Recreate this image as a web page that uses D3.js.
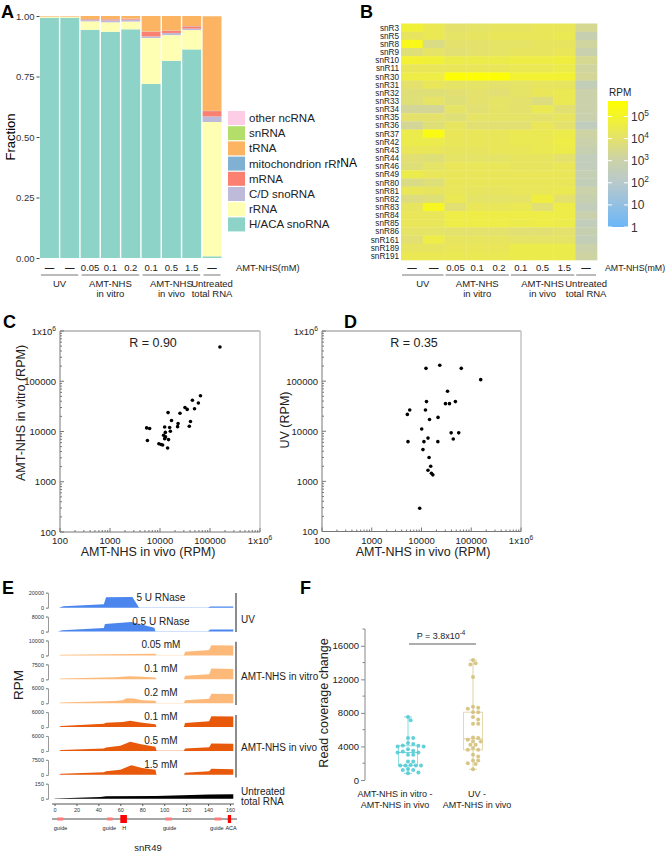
<!DOCTYPE html>
<html><head><meta charset="utf-8">
<script src="https://cdn.jsdelivr.net/npm/d3@7"></script>
<style>body{margin:0;background:#fff}svg{font-family:"Liberation Sans",Arial,sans-serif}</style>
</head><body><svg id="fig" width="668" height="853"></svg>
<script>
// ================= DATA =================
// Panel A
const aBars = ["UV-1","UV-2","vitro-0.05","vitro-0.1","vitro-0.2","vivo-0.1","vivo-0.5","vivo-1.5","untreated"];
const aDoseLabels = ["—","—","0.05","0.1","0.2","0.1","0.5","1.5","—"];
const rnaTypes = ["H/ACA snoRNA","rRNA","C/D snoRNA","mRNA","mitochondrion rRNA","tRNA","snRNA","other ncRNA"];
const rnaColors = ["#8dd3c7","#ffffb3","#bebada","#fb8072","#80b1d3","#fdb462","#b3de69","#fccde5"];
const fracHACA  = [0.993,0.993,0.943,0.935,0.945,0.720,0.815,0.862,0.007];
const fracRRNA  = [0.004,0.004,0.035,0.039,0.032,0.189,0.106,0.080,0.555];
const fracCD    = [0.0005,0.0005,0.005,0.008,0.008,0.007,0.009,0.006,0.023];
const fracMRNA  = [0.0005,0.0005,0.003,0.004,0.003,0.019,0.009,0.009,0.022];
const fracMito  = [0,0,0.001,0.001,0.001,0.001,0.001,0.001,0.001];
const fracTRNA  = [0.002,0.002,0.013,0.013,0.011,0.064,0.060,0.042,0.391];
const fracSnRNA = [0,0,0,0,0,0,0,0,0.0005];
const fracOther = [0,0,0,0,0,0,0,0,0.0005];
const conditionGroups = [
  {lines:["UV"], first:0, last:1},
  {lines:["AMT-NHS","in vitro"], first:2, last:4},
  {lines:["AMT-NHS","in vivo"], first:5, last:7},
  {lines:["Untreated","total RNA"], first:8, last:8}
];
// Panel B (log10 RPM per condition, rows = snoRNAs)
const snoRNAs = ["snR3","snR5","snR8","snR9","snR10","snR11","snR30","snR31","snR32","snR33","snR34","snR35","snR36","snR37","snR42","snR43","snR44","snR46","snR49","snR80","snR81","snR82","snR83","snR84","snR85","snR86","snR161","snR189","snR191"];
const logUV1    = [4.8,4.2,5.3,3.8,4.9,4.3,4.6,4.0,3.8,3.8,3.3,4.0,3.3,4.5,4.5,4.3,3.9,3.8,4.5,3.6,4.3,3.7,4.2,4.3,4.3,4.1,3.9,4.2,4.4];
const logUV2    = [4.4,4.4,3.6,4.1,4.8,4.3,4.6,4.3,3.8,4.1,3.3,4.0,3.8,5.4,4.5,4.3,3.8,4.1,4.3,3.8,4.2,3.8,5.2,4.3,4.3,4.1,4.6,4.2,4.4];
const logVitro005=[4.0,4.1,4.0,3.9,4.5,4.3,5.6,4.1,3.9,3.8,4.1,3.8,4.2,4.3,4.3,4.2,4.1,4.3,4.3,4.3,4.3,4.4,3.9,4.6,4.6,4.0,4.2,4.3,4.4];
const logVitro01= [4.1,4.2,4.0,4.0,4.5,4.3,5.6,4.1,4.0,4.0,3.9,4.1,3.9,4.3,4.3,4.2,4.1,4.3,4.3,4.3,4.2,4.1,4.3,4.6,4.6,4.0,4.2,4.3,4.4];
const logVitro02= [4.2,4.3,4.1,4.1,4.5,4.3,5.6,4.0,3.9,4.1,4.1,4.1,3.9,4.3,4.3,4.3,4.1,4.3,4.3,4.3,4.2,4.1,4.3,4.6,4.6,4.0,4.2,4.3,4.4];
const logVivo01 = [4.2,4.3,4.1,4.2,4.6,4.4,4.9,4.1,4.1,4.0,4.0,4.1,3.9,4.4,4.4,4.3,4.2,4.2,4.3,4.3,4.3,4.1,4.4,4.6,4.5,3.9,4.1,4.5,4.5];
const logVivo05 = [4.3,4.3,4.2,4.2,4.6,4.4,4.9,4.2,4.3,3.7,4.4,4.0,4.3,4.4,4.4,4.4,4.2,4.2,4.3,4.3,4.3,4.7,3.9,4.6,4.6,3.9,4.1,4.5,4.5];
const logVivo15 = [4.3,4.4,4.2,4.3,4.7,4.5,4.9,4.2,4.4,4.4,3.9,4.2,4.0,4.5,4.6,4.5,4.0,4.3,4.3,4.3,4.4,4.0,4.6,4.6,4.5,4.0,4.1,4.5,4.5];
const logUntreated=[3.4,2.8,3.2,2.9,3.4,3.2,3.3,2.6,3.0,3.0,3.0,2.9,2.4,3.1,3.0,2.8,2.5,2.5,2.7,2.6,3.0,2.8,2.5,2.9,2.5,2.8,2.6,3.0,3.1];
const colorbarTicks = [0,1,2,3,4,5];
// Panel C
const cVivo  = [158000,64500,44500,58500,49000,31600,35000,25100,14500,17000,23000,22500,40700,38500,12400,15600,16100,12800,11800,12900,14800,12400,9500,10500,11300,14200,5400,6200,5600];
const cVitro = [480000,51500,41800,37000,28300,30000,27500,23000,23800,16500,14400,12500,15800,12700,12300,12000,10100,9600,8400,7800,6900,7200,5700,5500,5400,4700,11800,11500,6600];
// Panel D
const dVivo = [12300,23300,63000,155000,33400,12600,48000,30300,36500,5800,5200,12000,14500,21500,10100,39500,56000,43500,5350,11200,13500,21300,10700,14200,15300,13500,15800,16900,9200];
const dUV   = [180000,208000,180000,107000,63000,39000,39000,35500,35500,26600,21700,26600,17200,18900,11100,9300,9300,7000,6200,6200,7300,6200,4300,3000,2000,1670,1450,1350,290];
const logTicks = [100,1000,10000,100000,1000000];
// Panel E coverage tracks: [position (nt), RPM]
const cov5U    = [[4,0],[8,1800],[45,4700],[47,14000],[71,14300],[77,400],[90,250],[140,250],[142,1600],[163,1600]];
const cov05U   = [[3,0],[7,700],[45,1900],[46,4000],[70,5100],[91,2100],[92,150],[140,150],[142,1100],[163,1100]];
const covVit005= [[4,0],[6,500],[92,1200],[93,80],[118,80],[119,2500],[141,3600],[143,6800],[163,6700]];
const covVit01 = [[4,0],[6,400],[55,1100],[62,1300],[68,1600],[80,1300],[92,900],[93,80],[118,80],[119,1800],[141,2500],[143,5400],[163,5200]];
const covVit02 = [[4,0],[6,300],[55,900],[62,1200],[66,1950],[72,1900],[80,1200],[92,1000],[93,80],[118,80],[119,1200],[141,1800],[143,3800],[163,3700]];
const covViv01 = [[4,0],[6,400],[45,1300],[47,1700],[62,2000],[69,2550],[80,1700],[92,1100],[93,80],[118,80],[119,1600],[141,2300],[143,4300],[163,4200]];
const covViv05 = [[4,0],[6,350],[45,1000],[47,1400],[60,2100],[69,3700],[80,2600],[92,1700],[93,80],[118,80],[119,1000],[141,1500],[143,3000],[163,2900]];
const covViv15 = [[4,0],[6,500],[45,1300],[47,1800],[60,2600],[70,4800],[80,3400],[92,2600],[93,80],[118,80],[119,1000],[141,1800],[143,3000],[163,2800]];
const covUntr  = [[0,3],[42,18],[47,25],[92,28],[141,42],[163,45]];
const trackData = [cov5U,cov05U,covVit005,covVit01,covVit02,covViv01,covViv05,covViv15,covUntr];
const trackMax = [20000,8000,10000,7500,6000,6000,6000,7500,150];
const trackLabels = ["5 U RNase","0.5 U RNase","0.05 mM","0.1 mM","0.2 mM","0.1 mM","0.5 mM","1.5 mM",""];
const trackColors = ["#4a86ee","#4a86ee","#fdb97a","#fdb97a","#fdb97a","#e8590c","#e8590c","#e8590c","#000000"];
const posTicks = [0,20,40,60,80,100,120,140,160];
const guideRegions = [[2.5,8],[48,53],[101,107],[146,152]];
const boxRegions = [[60,66],[158,161]];
const featureLabels = [["guide",5.5],["guide",50],["H",63.5],["guide",105],["guide",148],["ACA",161]];
// Panel F
const fVitroMinusVivo = [7520,7120,5000,5000,4400,4280,4080,4000,4000,4120,3680,3500,3400,3280,3280,3000,3000,2200,2200,1800,1720,1720,1720,1720,1320,1200,1200,880,800];
const fUVMinusVivo = [14300,13920,13760,12280,8600,8720,8480,8080,8080,7520,7200,6720,6720,5000,4800,5080,4600,4200,4200,4600,3800,3600,3600,3000,2800,2320,2320,2000,1920,1280];
const fTicks = [0,4000,8000,12000,16000];

// ================= DRAW =================
const FONT = '"Liberation Sans", Arial, sans-serif';
const svg = d3.select("#fig");
const defs = svg.append("defs");
defs.append("clipPath").attr("id","clipA").append("rect").attr("x",0).attr("y",0).attr("width",340).attr("height",305);
defs.append("clipPath").attr("id","clipB").append("rect").attr("x",340).attr("y",0).attr("width",328).attr("height",305);

function sup(t, base, exp, size){
  t.append("tspan").text(base);
  t.append("tspan").attr("font-size", size*0.7).attr("dy", -size*0.42).text(exp);
}
function panelLabel(t,x,y){ svg.append("text").attr("x",x).attr("y",y).attr("font-size",18).attr("font-weight","bold").text(t); }
panelLabel("A",1,18); panelLabel("B",360,18); panelLabel("C",3,328); panelLabel("D",344,328); panelLabel("E",2,594); panelLabel("F",300,594);

function conditionLabels(g, x, unitX, unitSize){
  const bw = x.bandwidth();
  aBars.forEach((b,i)=>{
    g.append("text").attr("x", x(b)+bw/2).attr("y",271).attr("text-anchor","middle")
     .attr("font-size",9.5).attr("font-weight", aDoseLabels[i]==="—"?"bold":"normal").attr("fill","#222").text(aDoseLabels[i]);
  });
  g.append("text").attr("x", unitX).attr("y",271).attr("font-size",unitSize).attr("fill","#222").text("AMT-NHS(mM)");
  conditionGroups.forEach(gr=>{
    const x0 = x(aBars[gr.first])+1, x1 = x(aBars[gr.last])+bw-1;
    g.append("line").attr("x1",x0).attr("x2",x1).attr("y1",275).attr("y2",275).attr("stroke","#777").attr("stroke-width",1);
    gr.lines.forEach((l,j)=>{
      g.append("text").attr("x",(x0+x1)/2).attr("y",287+j*10).attr("text-anchor","middle").attr("font-size",9.5).attr("fill","#222").text(l);
    });
  });
}

// ---- Panel A ----
(function(){
  const g = svg.append("g").attr("clip-path","url(#clipA)");
  const xA = d3.scaleBand().domain(aBars).range([40,221.5]).paddingInner(0.07);
  const yA = d3.scaleLinear().domain([0,1]).range([258,16]);
  const cols = [fracHACA,fracRRNA,fracCD,fracMRNA,fracMito,fracTRNA,fracSnRNA,fracOther];
  const rows = aBars.map((b,i)=>{ const o={bar:b}; rnaTypes.forEach((t,k)=>o[t]=cols[k][i]); return o; });
  const series = d3.stack().keys(rnaTypes)(rows);
  g.selectAll("g.ser").data(series).join("g").attr("fill",(d,i)=>rnaColors[i])
    .selectAll("rect").data(d=>d).join("rect")
    .attr("x",d=>xA(d.data.bar)).attr("width",xA.bandwidth())
    .attr("y",d=>yA(d[1])).attr("height",d=>Math.max(0,yA(d[0])-yA(d[1])));
  const ax = g.append("g").attr("transform","translate(39.5,0)")
    .call(d3.axisLeft(yA).tickValues([0,0.25,0.5,0.75,1]).tickFormat(d3.format(".2f")).tickSize(3).tickPadding(2));
  ax.select(".domain").remove();
  ax.attr("font-family",FONT);
  ax.selectAll("text").attr("font-size",9.5).attr("fill","#333");
  ax.selectAll("line").attr("stroke","#444");
  g.append("text").attr("transform","translate(15,137) rotate(-90)").attr("text-anchor","middle").attr("font-size",13).text("Fraction");
  const legendOrder = rnaTypes.map((t,i)=>({t,c:rnaColors[i]})).reverse();
  legendOrder.forEach((d,i)=>{
    const y = 111 + i*15.2;
    g.append("rect").attr("x",228).attr("y",y).attr("width",17).attr("height",14).attr("fill",d.c);
    g.append("text").attr("x",249).attr("y",y+11).attr("font-size",11.5).attr("fill","#222").text(d.t);
  });
  conditionLabels(g, xA, 236, 9.3);
})();

// ---- Panel B ----
(function(){
  const g = svg.append("g").attr("clip-path","url(#clipB)");
  const xB = d3.scaleBand().domain(aBars).range([401,597]);
  const yB = d3.scaleBand().domain(snoRNAs).range([23.5,260]);
  const colorStops = [[0,"#6cb6f8"],[2,"#b8c9cc"],[3,"#cbd1aa"],[4,"#e4e26c"],[5.7,"#ffff00"]];
  const color = d3.scaleLinear().domain(colorStops.map(d=>d[0])).range(colorStops.map(d=>d[1])).interpolate(d3.interpolateRgb).clamp(true);
  const cols = [logUV1,logUV2,logVitro005,logVitro01,logVitro02,logVivo01,logVivo05,logVivo15,logUntreated];
  const cells = [];
  cols.forEach((arr,ci)=>arr.forEach((v,ri)=>cells.push({c:aBars[ci], r:snoRNAs[ri], v})));
  g.selectAll("rect.cell").data(cells).join("rect").attr("class","cell")
    .attr("x",d=>xB(d.c)).attr("y",d=>yB(d.r)).attr("width",xB.bandwidth()+0.3).attr("height",yB.bandwidth()+0.3)
    .attr("fill",d=>color(d.v));
  snoRNAs.forEach(r=>{
    g.append("text").attr("x",399).attr("y",yB(r)+yB.bandwidth()/2+3).attr("text-anchor","end").attr("font-size",8.2).attr("fill","#222").text(r);
  });
  g.append("text").attr("x",357).attr("y",167).attr("text-anchor","end").attr("font-size",12).text("snoRNA");
  // colorbar
  const yCB = d3.scaleLinear().domain([0,5.7]).range([227,101]);
  const grad = defs.append("linearGradient").attr("id","cbGrad").attr("x1",0).attr("y1",1).attr("x2",0).attr("y2",0);
  d3.range(0,5.71,0.3).forEach(v=>grad.append("stop").attr("offset",v/5.7).attr("stop-color",color(v)));
  g.append("rect").attr("x",608).attr("y",yCB(5.7)).attr("width",20).attr("height",yCB(0)-yCB(5.7)).attr("fill","url(#cbGrad)");
  g.append("text").attr("x",609).attr("y",96).attr("font-size",10).attr("fill","#222").text("RPM");
  colorbarTicks.forEach(e=>{
    const y = yCB(e);
    g.append("line").attr("x1",608).attr("x2",612).attr("y1",y).attr("y2",y).attr("stroke","#fff");
    g.append("line").attr("x1",624).attr("x2",628).attr("y1",y).attr("y2",y).attr("stroke","#fff");
    const t = g.append("text").attr("x",631).attr("y",y+4.5).attr("font-size",12).attr("fill","#333");
    if (e===0) t.text("1"); else if (e===1) t.text("10"); else sup(t,"10",String(e),12);
  });
  conditionLabels(g, xB, 605, 8.8);
})();

// ---- Panels C & D ----
function scatterPanel(o){
  const g = svg.append("g");
  const x = d3.scaleLog().domain([100,1e6]).range([o.x0,o.x1]);
  const y = d3.scaleLog().domain([100,1e6]).range([o.y0,o.y1]);
  g.append("line").attr("x1",o.x0).attr("x2",o.x1).attr("y1",o.y1).attr("y2",o.y1).attr("stroke","#c4c4c4").attr("stroke-width",2);
  g.append("line").attr("x1",o.x1).attr("x2",o.x1).attr("y1",o.y1).attr("y2",o.y0).attr("stroke","#c4c4c4").attr("stroke-width",1.5);
  g.append("line").attr("x1",o.x0).attr("x2",o.x1).attr("y1",o.y0).attr("y2",o.y0).attr("stroke","#777");
  g.append("line").attr("x1",o.x0).attr("x2",o.x0).attr("y1",o.y1).attr("y2",o.y0).attr("stroke","#777");
  const minor = x.ticks();
  minor.forEach(v=>{
    const major = logTicks.includes(v);
    const L = major?4:2;
    g.append("line").attr("x1",x(v)).attr("x2",x(v)).attr("y1",o.y0).attr("y2",o.y0-L).attr("stroke","#777");
    g.append("line").attr("x1",o.x0).attr("x2",o.x0+L).attr("y1",y(v)).attr("y2",y(v)).attr("stroke","#777");
  });
  logTicks.forEach(v=>{
    const tx = g.append("text").attr("x",x(v)).attr("y",o.y0+12).attr("text-anchor","middle").attr("font-size",9.5).attr("fill","#222");
    const ty = g.append("text").attr("x",o.x0-4).attr("y",y(v)+3.5).attr("text-anchor","end").attr("font-size",9.5).attr("fill","#222");
    if (v===1e6){ sup(tx,"1x10","6",9.5); sup(ty,"1x10","6",9.5); }
    else { tx.text(d3.format("d")(v)); ty.text(d3.format("d")(v)); }
  });
  g.selectAll("circle").data(o.xs.map((v,i)=>[v,o.ys[i]])).join("circle")
    .attr("cx",d=>x(d[0])).attr("cy",d=>y(d[1])).attr("r",1.8).attr("fill","#000");
  g.append("text").attr("x",o.xtX).attr("y",o.y0+24).attr("text-anchor","middle").attr("font-size",12.5).attr("fill","#222").text(o.xTitle);
  g.append("text").attr("transform",`translate(${o.ytX},${o.ytY}) rotate(-90)`).attr("text-anchor","middle").attr("font-size",12.5).attr("fill","#222").text(o.yTitle);
  g.append("text").attr("x",o.rX).attr("y",o.y1+16).attr("text-anchor","middle").attr("font-size",12.5).attr("fill","#222").text(o.rText);
}
scatterPanel({x0:60,x1:260,y0:532,y1:331,xs:cVivo,ys:cVitro,xTitle:"AMT-NHS in vivo (RPM)",xtX:148,yTitle:"AMT-NHS in vitro (RPM)",ytX:25,ytY:413,rX:153,rText:"R = 0.90"});
scatterPanel({x0:322,x1:521,y0:531.5,y1:331,xs:dVivo,ys:dUV,xTitle:"AMT-NHS in vivo (RPM)",xtX:423,yTitle:"UV (RPM)",ytX:289,ytY:420,rX:414,rText:"R = 0.35"});

// ---- Panel E ----
(function(){
  const g = svg.append("g");
  const xE = d3.scaleLinear().domain([0,160]).range([54.5,230]);
  trackData.forEach((data,i)=>{
    const z0 = 607.7 + i*23.88;
    const y = d3.scaleLinear().domain([0,trackMax[i]]).range([z0, z0-15]);
    const area = d3.area().x(d=>xE(d[0])).y0(z0).y1(d=>y(d[1]));
    g.append("path").datum(data).attr("d",area).attr("fill",trackColors[i]);
    const ax = g.append("g").attr("transform","translate(48,0)").call(d3.axisLeft(y).tickValues([0,trackMax[i]]).tickFormat(d3.format("d")).tickSize(2).tickPadding(2));
    ax.attr("font-family",FONT);
    ax.select(".domain").attr("stroke","#999");
    ax.selectAll("line").attr("stroke","#999");
    ax.selectAll("text").attr("font-size",5.5).attr("fill","#333");
    if (trackLabels[i]) g.append("text").attr("x",xE(97)).attr("y",z0-7).attr("text-anchor","middle").attr("font-size",10).attr("fill","#222").text(trackLabels[i]);
  });
  const brackets = [[593,632,["UV"],622.5],[641.7,705,["AMT-NHS in vitro"],679.5],[715,777.5,["AMT-NHS in vivo"],751],[null,null,["Untreated","total RNA"],794.5]];
  brackets.forEach(b=>{
    if (b[0]!==null) g.append("line").attr("x1",236).attr("x2",236).attr("y1",b[0]).attr("y2",b[1]).attr("stroke","#666").attr("stroke-width",1.5);
    b[2].forEach((t,j)=>g.append("text").attr("x",241).attr("y",b[3]+j*10.7).attr("font-size",10).attr("fill","#222").text(t));
  });
  g.append("text").attr("transform","translate(23,685) rotate(-90)").attr("text-anchor","middle").attr("font-size",13.5).attr("fill","#222").text("RPM");
  const axB = g.append("g").attr("transform","translate(0,804)").call(d3.axisBottom(xE).tickValues(posTicks).tickSize(2).tickPadding(2));
  axB.attr("font-family",FONT);
  axB.select(".domain").attr("d","M52,0H234").attr("stroke","#555");
  axB.selectAll("line").attr("stroke","#555");
  axB.selectAll("text").attr("font-size",5.5).attr("fill","#333");
  g.append("line").attr("x1",52).attr("x2",237).attr("y1",819).attr("y2",819).attr("stroke","#222").attr("stroke-width",0.8);
  guideRegions.forEach(r=>g.append("rect").attr("x",xE(r[0])).attr("width",xE(r[1])-xE(r[0])).attr("y",817.5).attr("height",3).attr("fill","#ff7a7a"));
  boxRegions.forEach(r=>g.append("rect").attr("x",xE(r[0])).attr("width",xE(r[1])-xE(r[0])).attr("y",815).attr("height",8).attr("fill","#ff0000"));
  featureLabels.forEach(f=>g.append("text").attr("x",xE(f[1])).attr("y",830).attr("text-anchor","middle").attr("font-size",5.5).attr("fill","#222").text(f[0]));
  g.append("text").attr("x",148).attr("y",851).attr("text-anchor","middle").attr("font-size",9.5).attr("fill","#222").text("snR49");
})();

// ---- Panel F ----
(function(){
  const g = svg.append("g");
  const yF = d3.scaleLinear().domain([0,18000]).range([780,629]);
  const ax = g.append("g").attr("transform","translate(365,0)").call(d3.axisLeft(yF).tickValues(fTicks).tickFormat(d3.format("d")).tickSize(4).tickPadding(2));
  ax.attr("font-family",FONT);
  ax.select(".domain").attr("stroke","#888").attr("d","M0,780V629");
  ax.selectAll("line").attr("stroke","#888");
  ax.selectAll("text").attr("font-size",9.5).attr("fill","#222");
  d3.range(2000,18001,4000).forEach(v=>g.append("line").attr("x1",362.5).attr("x2",365).attr("y1",yF(v)).attr("y2",yF(v)).attr("stroke","#888"));
  g.append("text").attr("transform","translate(328,703) rotate(-90)").attr("text-anchor","middle").attr("font-size",12.5).attr("fill","#222").text("Read coverage change");
  function swarm(values, cx, r){
    const pts = values.map(v=>({v, y:yF(v)})).sort((a,b)=>a.y-b.y);
    const placed=[];
    pts.forEach(p=>{
      for (let k=0;k<30;k++){
        const off = (k%2?1:-1)*Math.ceil(k/2)*r*1.3;
        const x = cx+off;
        if (placed.every(q=>Math.hypot(q.x-x,q.y-p.y)>=2*r*0.95)){ p.x=x; placed.push(p); break; }
      }
    });
    return placed;
  }
  const groups = [{vals:fVitroMinusVivo,cx:408,color:"#52ccd4"},{vals:fUVMinusVivo,cx:473,color:"#d4c07a"}];
  groups.forEach(gr=>{
    const s = gr.vals.slice().sort(d3.ascending);
    const q1=d3.quantile(s,0.25), med=d3.quantile(s,0.5), q3=d3.quantile(s,0.75);
    const lo=d3.min(s), hi=d3.max(s), w=9.5;
    g.append("line").attr("x1",gr.cx).attr("x2",gr.cx).attr("y1",yF(hi)).attr("y2",yF(q3)).attr("stroke",gr.color).attr("stroke-opacity",0.7);
    g.append("line").attr("x1",gr.cx).attr("x2",gr.cx).attr("y1",yF(q1)).attr("y2",yF(lo)).attr("stroke",gr.color).attr("stroke-opacity",0.7);
    g.append("line").attr("x1",gr.cx-4).attr("x2",gr.cx+4).attr("y1",yF(hi)).attr("y2",yF(hi)).attr("stroke",gr.color).attr("stroke-opacity",0.7);
    g.append("line").attr("x1",gr.cx-4).attr("x2",gr.cx+4).attr("y1",yF(lo)).attr("y2",yF(lo)).attr("stroke",gr.color).attr("stroke-opacity",0.7);
    g.append("rect").attr("x",gr.cx-w).attr("width",2*w).attr("y",yF(q3)).attr("height",yF(q1)-yF(q3)).attr("fill","none").attr("stroke",gr.color).attr("stroke-opacity",0.6);
    g.append("line").attr("x1",gr.cx-w).attr("x2",gr.cx+w).attr("y1",yF(med)).attr("y2",yF(med)).attr("stroke",gr.color).attr("stroke-opacity",0.8);
    g.selectAll(null).data(swarm(gr.vals,gr.cx,2)).join("circle").attr("cx",d=>d.x).attr("cy",d=>d.y).attr("r",2).attr("fill",gr.color).attr("fill-opacity",0.9);
  });
  g.append("line").attr("x1",409).attr("x2",476).attr("y1",644).attr("y2",644).attr("stroke","#333").attr("stroke-width",0.8);
  const pt = g.append("text").attr("x",441).attr("y",639).attr("text-anchor","middle").attr("font-size",9).attr("fill","#222");
  sup(pt,"P = 3.8x10","-4",9);
  [[395,["AMT-NHS in vitro -","AMT-NHS in vivo"]],[477,["UV -","AMT-NHS in vivo"]]].forEach(l=>{
    l[1].forEach((t,j)=>g.append("text").attr("x",l[0]).attr("y",797+j*10.5).attr("text-anchor","middle").attr("font-size",9).attr("fill","#222").text(t));
  });
})();
</script></body></html>
